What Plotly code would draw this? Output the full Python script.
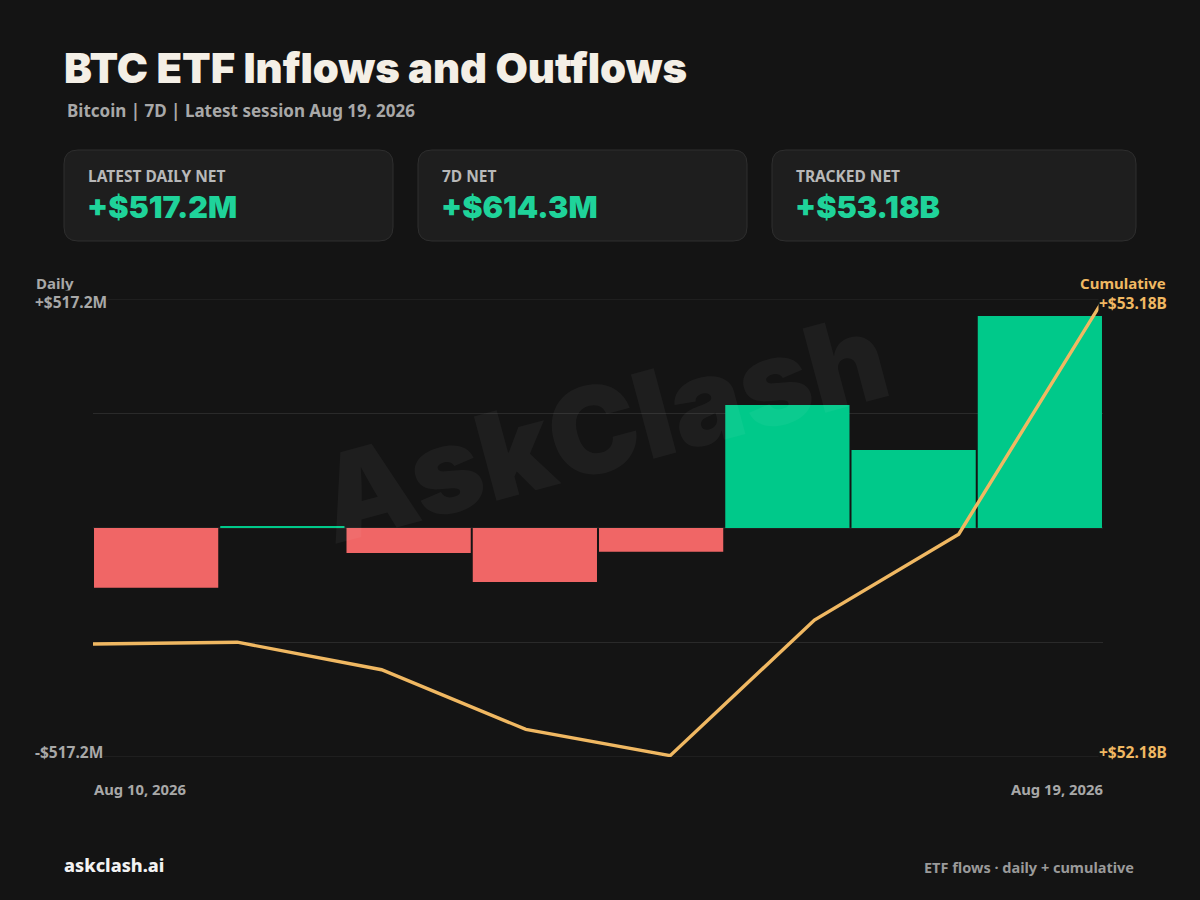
import plotly.graph_objects as go

# ---------------- data ----------------
dates = ["Aug 10, 2026", "Aug 11, 2026", "Aug 12, 2026", "Aug 13, 2026",
         "Aug 14, 2026", "Aug 17, 2026", "Aug 18, 2026", "Aug 19, 2026"]
daily_net_m = [-146.0, 4.1, -61.0, -132.0, -58.0, 300.0, 190.0, 517.2]
cumulative_b = [52.4237, 52.4278, 52.3668, 52.2348, 52.1768, 52.4768, 52.6668, 53.1840]

card_labels = ["LATEST DAILY NET", "7D NET", "TRACKED NET"]
card_values = ["+$517.2M", "+$614.3M", "+$53.18B"]
daily_tick_labels = ["+$517.2M", "-$517.2M"]
cum_tick_labels = ["+$53.18B", "+$52.18B"]
date_tick_labels = ["Aug 10, 2026", "Aug 19, 2026"]

title = "BTC ETF Inflows and Outflows"
subtitle = "Bitcoin | 7D | Latest session Aug 19, 2026"

# ---------------- style ----------------
W, H = 1200, 900
BG = "#141414"
CARD_BG = "#1e1e1e"
CARD_LINE = "#2e2e2e"
GREEN = "#00c98a"
RED = "#f06666"
ORANGE = "#f0b862"
GRID = "#2a2a2a"
GRAY = "#a8a8a8"
FONT = "Noto Sans"
HEAVY = "Inter"

def px(x):
    return x / W

def py(y):
    return 1 - y / H

# plot area in pixels
PX0, PX1, PY0, PY1 = 93, 1103, 299, 757

dmax = max(abs(v) for v in daily_net_m)
yr = dmax * 1.08
cmin, cmax = min(cumulative_b), max(cumulative_b)
cpad = (cmax - cmin) * 0.003

fig = go.Figure()

fig.add_trace(go.Bar(
    x=dates, y=daily_net_m,
    marker=dict(color=[GREEN if v >= 0 else RED for v in daily_net_m], line=dict(width=0)),
    xaxis="x", yaxis="y", hoverinfo="skip", showlegend=False,
))

fig.add_trace(go.Scatter(
    x=dates, y=cumulative_b, mode="lines",
    line=dict(color=ORANGE, width=3.4),
    xaxis="x2", yaxis="y2", hoverinfo="skip", showlegend=False,
))

shapes = []
# gridlines
for frac in [-1, -0.5, 0, 0.5, 1]:
    shapes.append(dict(type="line", xref="x domain", yref="y",
                       x0=0, x1=1, y0=frac * yr, y1=frac * yr,
                       line=dict(color=GRID, width=1), layer="below"))

# cards
def rounded_rect(x0, y0, x1, y1, r):
    X0, X1 = px(x0), px(x1)
    Y0, Y1 = py(y0), py(y1)
    rx, ry = r / W, r / H
    return (f"M {X0+rx},{Y0} L {X1-rx},{Y0} Q {X1},{Y0} {X1},{Y0-ry} "
            f"L {X1},{Y1+ry} Q {X1},{Y1} {X1-rx},{Y1} L {X0+rx},{Y1} "
            f"Q {X0},{Y1} {X0},{Y1+ry} L {X0},{Y0-ry} Q {X0},{Y0} {X0+rx},{Y0} Z")

cards = [(64, 393), (418, 747), (772, 1136)]
for (cx0, cx1) in cards:
    shapes.append(dict(type="path", xref="paper", yref="paper",
                       path=rounded_rect(cx0, 150, cx1, 241, 14),
                       fillcolor=CARD_BG, line=dict(color=CARD_LINE, width=1),
                       layer="below"))

annotations = []

def ann(text, x, y, size, color, xanchor="left", weight=700, bg=None, family=FONT, **kw):
    d = dict(text=text, x=px(x), y=py(y), xref="paper", yref="paper",
             xanchor=xanchor, yanchor="middle", showarrow=False,
             font=dict(family=family, size=size, color=color, weight=weight))
    if bg:
        d["bgcolor"] = bg
        d["borderpad"] = 0
    d.update(kw)
    annotations.append(d)

# watermark
ann("AskClash", 602, 428, 120, "rgba(255,255,255,0.045)", xanchor="center",
    weight=900, family=HEAVY, textangle=-15)

ann(title, 62, 68, 41.8, "#f4efe6", weight=900, family=HEAVY)
ann(subtitle, 65, 111, 17, GRAY)

for (cx0, cx1), lab, val in zip(cards, card_labels, card_values):
    ann(lab, cx0 + 22, 176, 15.5, "#b8b8b8")
    ann(val, cx0 + 21, 207, 30.5, "#1fd39a", weight=900, family=HEAVY)

ann("Daily", 34, 283, 15, GRAY)
ann(daily_tick_labels[0], 34, 302, 15.5, GRAY, bg=BG)
ann(daily_tick_labels[1], 34, 752, 15.5, GRAY, bg=BG)
ann("Cumulative", 1168, 283, 15, ORANGE, xanchor="right")
ann(cum_tick_labels[0], 1168, 303, 15.5, ORANGE, xanchor="right", bg=BG)
ann(cum_tick_labels[1], 1168, 752, 15.5, ORANGE, xanchor="right", bg=BG)
ann(date_tick_labels[0], 92, 789, 14.8, GRAY)
ann(date_tick_labels[1], 1105, 789, 14.8, GRAY, xanchor="right")

ann("askclash.ai", 62, 865, 18, "#f2f2f2", weight=800)
ann("ETF flows · daily + cumulative", 1136, 867, 14.5, "#9a9a9a", xanchor="right")

fig.update_layout(
    width=W, height=H,
    margin=dict(l=0, r=0, t=0, b=0),
    paper_bgcolor=BG, plot_bgcolor=BG,
    bargap=0.016,
    showlegend=False,
    shapes=shapes,
    annotations=annotations,
    xaxis=dict(domain=[px(PX0), px(PX1)], type="category", range=[-0.5, len(dates) - 0.5],
               showgrid=False, showticklabels=False, zeroline=False, showline=False,
               fixedrange=True),
    xaxis2=dict(domain=[px(PX0), px(PX1)], type="category", range=[0, len(dates) - 1],
                overlaying="x", anchor="y2", showgrid=False, showticklabels=False,
                zeroline=False, showline=False, fixedrange=True),
    yaxis=dict(domain=[py(PY1), py(PY0)], range=[-yr, yr], showgrid=False,
               showticklabels=False, zeroline=False, showline=False, fixedrange=True),
    yaxis2=dict(domain=[py(PY1), py(PY0)], range=[cmin - cpad, cmax + cpad],
                overlaying="y", anchor="x2", showgrid=False, showticklabels=False,
                zeroline=False, showline=False, fixedrange=True),
)

fig.write_html("out.html", config={"displayModeBar": False},
               post_script="document.body.style.margin='0';document.body.style.overflow='hidden';document.body.style.background='#141414';")
